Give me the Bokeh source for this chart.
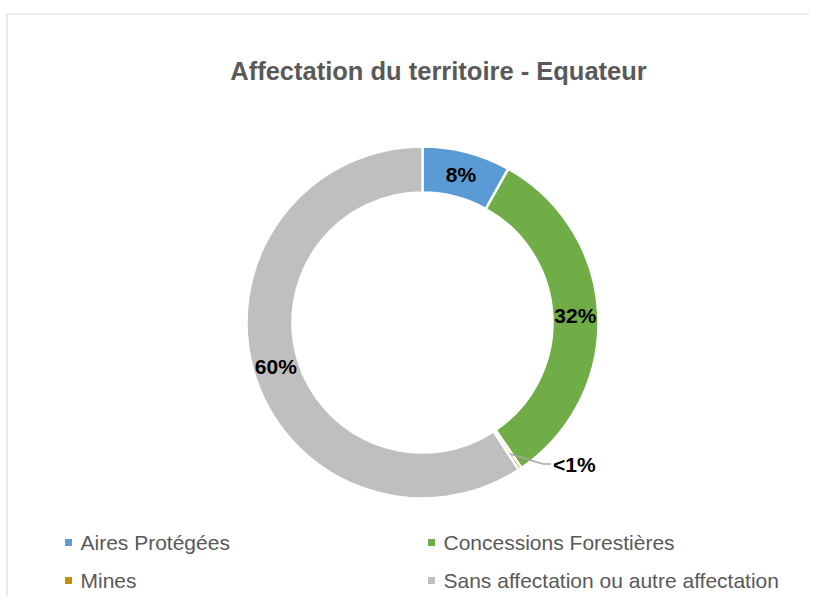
import math
from bokeh.plotting import figure
from bokeh.models import Range1d, ColumnDataSource
from bokeh.core.properties import value
from bokeh.embed import file_html
from bokeh.resources import INLINE

# ---- data ----
categories = ["Aires Protégées", "Concessions Forestières", "Mines",
              "Sans affectation ou autre affectation"]
shares = [8.1, 32.4, 0.3, 59.2]
labels = ["8%", "32%", "<1%", "60%"]
colors = ["#5B9BD5", "#70AD47", "#BF9000", "#BFBFBF"]
title = "Affectation du territoire - Equateur"

W, H = 809, 596
FONT = "Liberation Sans"
TXT = "#595959"

def Y(img_y):
    return 604 - img_y

p = figure(width=W, height=H, output_backend="svg", toolbar_location=None,
           x_axis_type=None, y_axis_type=None,
           x_range=Range1d(0, W), y_range=Range1d(604 - H, 604),
           min_border=0, outline_line_color=None, background_fill_color="white")
p.grid.visible = False

# chart area border (top and left)
p.segment(x0=[6.5, 6.5], y0=[Y(13.5), Y(13.5)], x1=[W, 6.5], y1=[Y(13.5), Y(604)],
          line_color="#D9D9D9", line_width=1.2)

# title
p.text(x=[438], y=[Y(70)], text=[title], text_font=value(FONT),
       text_font_size="25.5px", text_font_style="bold", text_color=TXT,
       text_align="center", text_baseline="middle")

# donut
cx, cy = 422, Y(322)
r_in, r_out = 130, 176
total = sum(shares)
starts, ends, mids = [], [], []
cum = 0.0
for s in shares:
    a0 = math.pi / 2 - 2 * math.pi * cum / total
    cum += s
    a1 = math.pi / 2 - 2 * math.pi * cum / total
    starts.append(a0); ends.append(a1); mids.append((a0 + a1) / 2)

src = ColumnDataSource(dict(start=starts, end=ends, color=colors))
p.annular_wedge(x=cx, y=cy, inner_radius=r_in, outer_radius=r_out,
                start_angle="start", end_angle="end", direction="clock",
                fill_color="color", line_color="white", line_width=2.5, source=src)

# labels
r_lab = 153
lx, ly, lt = [], [], []
for i, (lab, m) in enumerate(zip(labels, mids)):
    if lab.startswith("<"):
        sx = cx + 158 * math.cos(m)
        sy = cy + 158 * math.sin(m)
        ex, ey = sx + 33, sy - 10
        p.line(x=[sx, ex, ex + 8], y=[sy, ey, ey], line_color="#A6A6A6", line_width=1.5)
        p.text(x=[ex + 10], y=[ey], text=[lab], text_font=value(FONT),
               text_font_size="21px", text_font_style="bold", text_color="black",
               text_align="left", text_baseline="middle")
    else:
        lx.append(cx + r_lab * math.cos(m)); ly.append(cy + r_lab * math.sin(m)); lt.append(lab)
p.text(x=lx, y=ly, text=lt, text_font=value(FONT), text_font_size="21px",
       text_font_style="bold", text_color="black", text_align="center",
       text_baseline="middle")

# legend (2 columns)
leg_x = [68, 431, 68, 431]
leg_y = [Y(542), Y(542), Y(580), Y(580)]
p.scatter(x=leg_x, y=leg_y, marker="square", size=7, fill_color=colors, line_color=None)
p.text(x=[x + 12 for x in leg_x], y=leg_y, text=categories, text_font=value(FONT),
       text_font_size="21px", text_color=TXT, text_align="left",
       text_baseline="middle")

open("out.html", "w").write(file_html(p, INLINE))
